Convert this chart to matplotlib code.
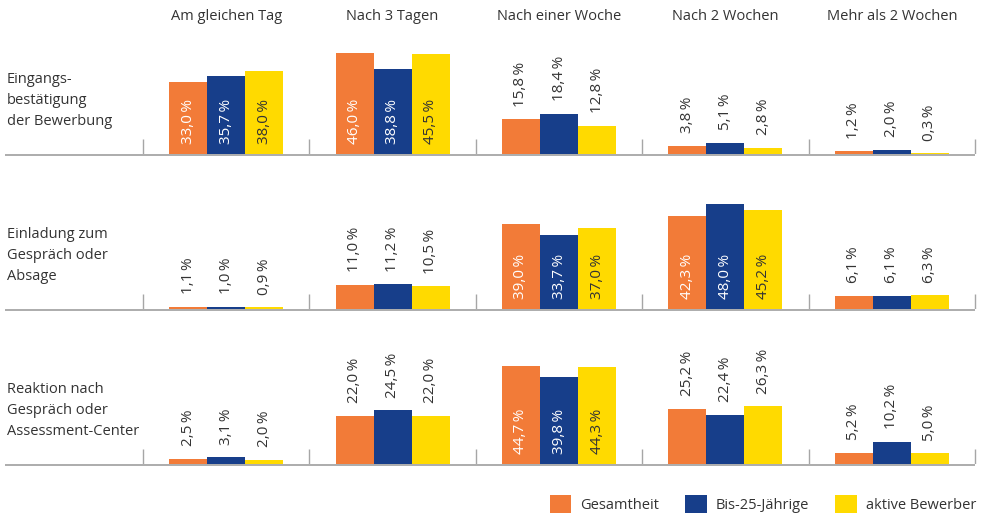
import matplotlib
matplotlib.use("Agg")
import matplotlib.pyplot as plt
from matplotlib.patches import Patch

plt.rcParams['font.family'] = ['Open Sans', 'DejaVu Sans']

columns = ["Am gleichen Tag", "Nach 3 Tagen", "Nach einer Woche", "Nach 2 Wochen", "Mehr als 2 Wochen"]
rows = ["Eingangs-\nbestätigung\nder Bewerbung",
        "Einladung zum\nGespräch oder\nAbsage",
        "Reaktion nach\nGespräch oder\nAssessment-Center"]
series = ["Gesamtheit", "Bis-25-Jährige", "aktive Bewerber"]

gesamt = [[33.0, 46.0, 15.8, 3.8, 1.2],
          [1.1, 11.0, 39.0, 42.3, 6.1],
          [2.5, 22.0, 44.7, 25.2, 5.2]]
bis25 = [[35.7, 38.8, 18.4, 5.1, 2.0],
         [1.0, 11.2, 33.7, 48.0, 6.1],
         [3.1, 24.5, 39.8, 22.4, 10.2]]
aktiv = [[38.0, 45.5, 12.8, 2.8, 0.3],
         [0.9, 10.5, 37.0, 45.2, 6.3],
         [2.0, 22.0, 44.3, 26.3, 5.0]]

colors = ["#F27B38", "#173E8A", "#FFDA00"]
inside_colors = ["white", "white", "#333333"]
text_col = "#333333"
grid_col = "#A6A6A6"

W, H = 983, 514
fig = plt.figure(figsize=(W / 100, H / 100), dpi=100)

col_w = 166.4          # px per column
x0_px = 143            # first separator
px_per_pct = 2.19
ax_h = 125
baselines = [154, 309, 464]
bar_w = 38 / col_w

xlim = (-x0_px / col_w, (W - x0_px) / col_w)

for r, base in enumerate(baselines):
    ax = fig.add_axes([0, 1 - base / H, 1, ax_h / H])
    ax.set_xlim(*xlim)
    ax.set_ylim(0, ax_h / px_per_pct)
    ax.axis("off")
    # baseline and separators (behind the bars)
    ax.plot([(5 - x0_px) / col_w, 5.0], [-0.35, -0.35], color=grid_col, lw=1.3,
            clip_on=False, solid_capstyle="butt", zorder=0.5)
    ax.vlines(range(6), 0, 15 / px_per_pct, color=grid_col, lw=1.0, zorder=0.5)
    for s, data in enumerate([gesamt, bis25, aktiv]):
        vals = data[r]
        xs = [c + 0.5 + (s - 1) * bar_w for c in range(5)]
        ax.bar(xs, vals, width=bar_w, color=colors[s], linewidth=0, zorder=1)
        for x, v in zip(xs, vals):
            lab = f"{v:.1f}".replace(".", ",") + "\u2009%"
            if v >= 30:
                ax.annotate(lab, (x, 0), xytext=(0, 7), textcoords="offset points",
                            rotation=90, ha="center", va="bottom",
                            fontsize=11, color=inside_colors[s])
            else:
                ax.annotate(lab, (x, v), xytext=(0, 9), textcoords="offset points",
                            rotation=90, ha="center", va="bottom",
                            fontsize=11, color=text_col)
    fig.text(7 / W, 1 - 72 / H - r * 155 / H, rows[r], ha="left", va="top",
             fontsize=10.5, color=text_col, linespacing=1.55)

for c, name in enumerate(columns):
    cx = x0_px + (c + 0.5) * col_w
    fig.text(cx / W, 1 - 16 / H, name, ha="center", va="center",
             fontsize=10.5, color=text_col)

handles = [Patch(facecolor=colors[i], edgecolor="none", label=series[i]) for i in range(3)]
leg = fig.legend(handles=handles, loc="lower right", bbox_to_anchor=(976 / W, 1 / H),
                 ncol=3, frameon=False, fontsize=10.5, handlelength=1.5,
                 handleheight=1.5, handletextpad=0.62, columnspacing=1.75,
                 borderpad=0, borderaxespad=0)
for t in leg.get_texts():
    t.set_color(text_col)

fig.savefig("out.png", dpi=100)
